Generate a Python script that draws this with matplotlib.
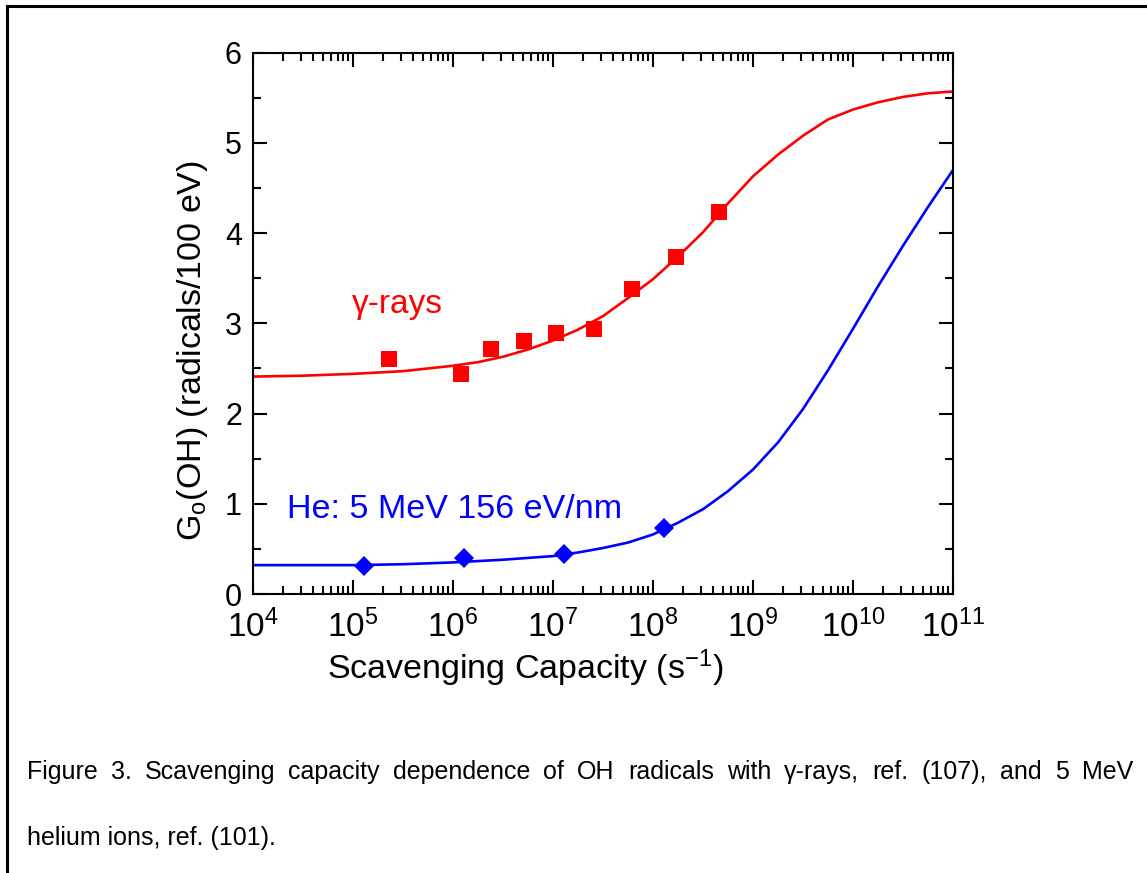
import numpy as np
import matplotlib
matplotlib.use("Agg")
import matplotlib.pyplot as plt
from matplotlib.lines import Line2D
from matplotlib.ticker import LogLocator, MultipleLocator

plt.rcParams['font.family'] = ['Liberation Sans', 'DejaVu Sans']
plt.rcParams['mathtext.fontset'] = 'custom'
plt.rcParams['mathtext.rm'] = 'Liberation Sans'
plt.rcParams['mathtext.it'] = 'Liberation Sans:italic'

# gamma-ray measurements: scavenging capacity (s^-1) and G(OH)
gamma_capacity = [2.3e5, 1.2e6, 2.4e6, 5.1e6, 1.06e7, 2.55e7, 6.1e7, 1.7e8, 4.6e8]
gamma_g = [2.61, 2.44, 2.72, 2.80, 2.89, 2.94, 3.38, 3.73, 4.23]

# 5 MeV helium ion measurements
helium_capacity = [1.3e5, 1.3e6, 1.3e7, 1.3e8]
helium_g = [0.31, 0.40, 0.44, 0.73]

# model curves, sampled at log10 of scavenging capacity
gamma_fit_exp = [4.0, 4.5, 5.0, 5.5, 6.0, 6.25, 6.5, 6.75, 7.0, 7.25, 7.5, 7.75,
                 8.0, 8.25, 8.5, 8.75, 9.0, 9.25, 9.5, 9.75, 10.0, 10.25, 10.5,
                 10.75, 11.0]
gamma_fit_g = [2.41, 2.42, 2.44, 2.47, 2.53, 2.57, 2.63, 2.71, 2.81, 2.93, 3.08,
               3.28, 3.49, 3.74, 4.01, 4.33, 4.63, 4.87, 5.08, 5.26, 5.37, 5.45,
               5.51, 5.55, 5.57]

helium_fit_exp = [4.0, 4.5, 5.0, 5.5, 6.0, 6.5, 7.0, 7.25, 7.5, 7.75, 8.0, 8.25,
                  8.5, 8.75, 9.0, 9.25, 9.5, 9.75, 10.0, 10.25, 10.5, 10.75, 11.0]
helium_fit_g = [0.32, 0.32, 0.32, 0.33, 0.35, 0.38, 0.42, 0.46, 0.51, 0.57, 0.66,
                0.79, 0.94, 1.14, 1.38, 1.68, 2.05, 2.48, 2.94, 3.41, 3.86, 4.29,
                4.70]

W, H = 1147, 873
fig = plt.figure(figsize=(W / 100, H / 100), dpi=100)
ax = fig.add_axes([253 / W, 1 - 594 / H, (953 - 253) / W, (594 - 52.7) / H])

red, blue = '#ff0000', '#0000ff'
ax.plot(10 ** np.array(gamma_fit_exp), gamma_fit_g, color=red, lw=1.9,
        solid_capstyle='butt', clip_on=False, zorder=2)
ax.plot(10 ** np.array(helium_fit_exp), helium_fit_g, color=blue, lw=1.9,
        solid_capstyle='butt', clip_on=False, zorder=2)
ax.plot(gamma_capacity, gamma_g, 's', color=red, ms=11.5, mew=0, zorder=3)
ax.plot(helium_capacity, helium_g, 'D', color=blue, ms=10.5, mew=0, zorder=3)

ax.set_xscale('log')
ax.set_xlim(1e4, 1e11)
ax.set_ylim(0, 6)
ax.xaxis.set_major_locator(LogLocator(base=10, numticks=20))
ax.xaxis.set_minor_locator(LogLocator(base=10, subs=np.arange(2, 10), numticks=20))
ax.yaxis.set_major_locator(MultipleLocator(1))
ax.yaxis.set_minor_locator(MultipleLocator(0.5))

for s in ax.spines.values():
    s.set_linewidth(1.5)
ax.tick_params(which='both', direction='in', top=True, right=True,
               width=1.5, colors='black')
ax.tick_params(which='major', length=10)
ax.tick_params(which='minor', length=6)
ax.tick_params(axis='y', which='major', labelsize=22, pad=8)
ax.tick_params(axis='x', which='major', labelsize=24, pad=11)

ax.set_xlabel('Scavenging Capacity (s$^{\\mathdefault{-1}}$)', fontsize=24.5)
ax.xaxis.set_label_coords((525 - 253) / 700, -0.098)
ax.set_ylabel('G$_{\\mathdefault{o}}$(OH) (radicals/100 eV)', fontsize=24.5)
ax.yaxis.set_label_coords(-0.062, (594 - 351) / 541.3)

ax.text(10 ** 4.99, 3.115, '\u03b3-rays', color=red, fontsize=24,
        ha='left', va='baseline')
ax.text(10 ** 4.34, 0.84, 'He: 5 MeV 156 eV/nm', color=blue, fontsize=24.5,
        ha='left', va='baseline')

# page frame
fig.add_artist(Line2D([7 / W, 7 / W], [0, 1 - 5.5 / H], color='black', lw=2.2))
fig.add_artist(Line2D([7 / W, 1], [1 - 5.5 / H, 1 - 5.5 / H], color='black', lw=2.2))

# caption, justified across the text column
cap_size = 18
line1 = ('Figure 3. Scavenging capacity dependence of OH radicals with '
         '\u03b3-rays, ref. (107), and 5 MeV').split(' ')
x_left, x_right = 27, 1133
fig.canvas.draw()
renderer = fig.canvas.get_renderer()
word_artists = []
widths = []
for w in line1:
    t = fig.text(0, 1 - 779 / H, w, fontsize=cap_size, va='baseline', ha='left')
    word_artists.append(t)
    widths.append(t.get_window_extent(renderer).width)
gap = (x_right - x_left - sum(widths)) / (len(line1) - 1)
xpos = x_left
for t, wd in zip(word_artists, widths):
    t.set_x(xpos / W)
    xpos += wd + gap
fig.text(x_left / W, 1 - 845 / H, 'helium ions, ref. (101).', fontsize=cap_size,
         va='baseline', ha='left')

fig.savefig('out.png', dpi=100)
